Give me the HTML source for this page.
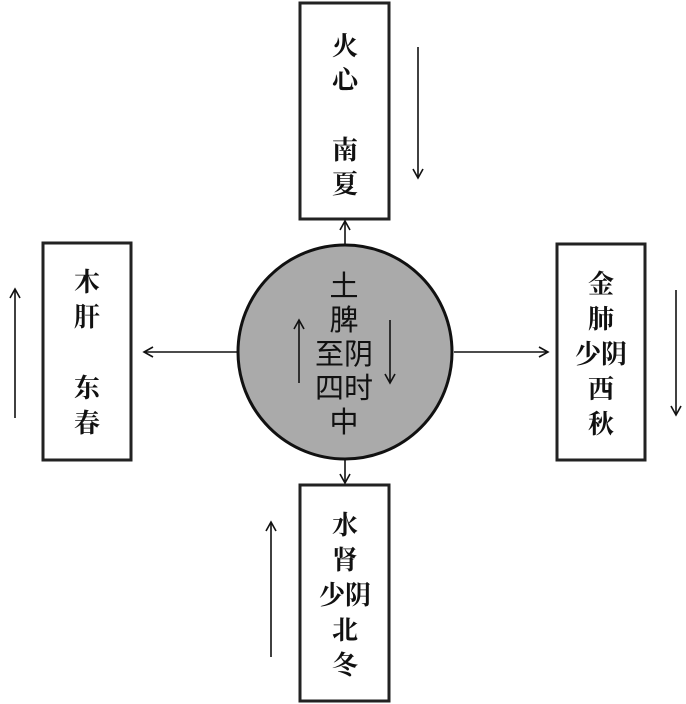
<!DOCTYPE html>
<html><head><meta charset="utf-8"><style>
html,body{margin:0;padding:0;background:#fff;}
svg{display:block}
.s{font-family:"Liberation Serif","Noto Serif CJK SC",serif;font-weight:bold;font-size:26px;fill:#111;text-anchor:middle}
.c{font-family:"Liberation Sans","Noto Sans CJK SC",sans-serif;font-size:29px;fill:#111;text-anchor:middle}
</style></head><body>
<svg width="686" height="704" viewBox="0 0 686 704">
<defs><marker id="a" markerWidth="12" markerHeight="12" refX="10" refY="6" orient="auto" markerUnits="userSpaceOnUse"><path d="M1,1 L10,6 L1,11" fill="none" stroke="#111" stroke-width="1.6"/></marker></defs>
<g fill="none" stroke="#222" stroke-width="3">
<rect x="300" y="3" width="89" height="216"/>
<rect x="43" y="243" width="88" height="217"/>
<rect x="557" y="244" width="88" height="216"/>
<rect x="300" y="485" width="89" height="216"/>
</g>
<circle cx="345" cy="352" r="107" fill="#aaaaaa" stroke="#111" stroke-width="3"/>
<g stroke="#111" stroke-width="1.6" fill="none" marker-end="url(#a)">
<line x1="345" y1="244" x2="345" y2="221"/>
<line x1="237" y1="352" x2="144" y2="352"/>
<line x1="454" y1="352" x2="548" y2="352"/>
<line x1="345" y1="460" x2="345" y2="483"/>
<line x1="418" y1="47" x2="418" y2="178"/>
<line x1="15" y1="418" x2="15" y2="289"/>
<line x1="676" y1="290" x2="676" y2="415"/>
<line x1="271" y1="657" x2="271" y2="522"/>
<line x1="299" y1="383" x2="299" y2="320"/>
<line x1="390" y1="320" x2="390" y2="383"/>
</g>
<g class="s">
<text x="345" y="55">火</text><text x="345" y="89">心</text><text x="345" y="159">南</text><text x="345" y="193">夏</text>
<text x="87" y="291">木</text><text x="87" y="326">肝</text><text x="87" y="397">东</text><text x="87" y="432">春</text>
<text x="601" y="293">金</text><text x="601" y="328">肺</text><text x="601" y="363">少阴</text><text x="601" y="398">西</text><text x="601" y="433">秋</text>
<text x="345" y="534">水</text><text x="345" y="569">肾</text><text x="345" y="604">少阴</text><text x="345" y="639">北</text><text x="345" y="674">冬</text>
</g>
<g class="c">
<text x="344" y="296">土</text><text x="344" y="330">脾</text><text x="344" y="364">至阴</text><text x="344" y="398">四时</text><text x="344" y="432">中</text>
</g>
</svg>
</body></html>
